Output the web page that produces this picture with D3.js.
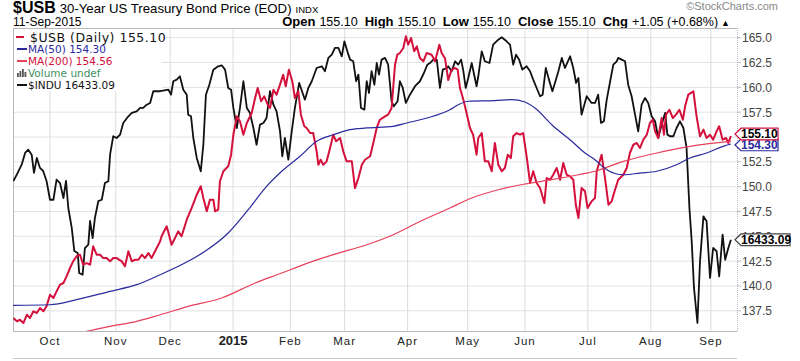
<!DOCTYPE html>
<html><head><meta charset="utf-8">
<script src="https://cdn.jsdelivr.net/npm/d3@7"></script>
<style>body{margin:0;background:#fff}svg{display:block}</style>
</head><body>
<svg id="c" width="800" height="361"></svg>
<script>
// x = trading-day number counted from 12-Sep-2014 (0) to 11-Sep-2015 (251)
const monthIdx = [13,36,55,77,97,116,138,159,179,201,223,244];
const monthLbl = ["Oct","Nov","Dec","2015","Feb","Mar","Apr","May","Jun","Jul","Aug","Sep"];
const yTicks = [137.5,140,142.5,145,147.5,150,152.5,155,157.5,160,162.5,165];

const usb = [[0.2,136.77],[1.4,136.44],[2.5,136.6],[3.7,136.27],[4.9,137.1],[6,136.77],[7.2,137.45],[8.4,137.28],[9.5,137.78],[10.7,137.45],[11.8,137.95],[13,139.12],[14.2,138.79],[15.3,139.46],[16.5,140.13],[17.7,140.3],[18.8,140.97],[20,141.81],[21.1,142.48],[22.3,142.99],[23.5,143.15],[24.6,142.14],[25.8,142.31],[27,142.14],[28.1,143.99],[29.3,143.15],[30.5,143.15],[31.6,142.81],[32.8,142.81],[34,142.48],[35.1,142.81],[36.3,142.81],[38.1,142.48],[39.2,141.98],[40.4,143.49],[41.6,142.48],[42.7,142.64],[43.9,142.64],[45.1,143.15],[46.2,142.81],[47.4,143.32],[48.5,142.81],[50.3,143.82],[51.5,144.5],[52,145],[53.8,146.01],[55.5,144.15],[56.7,144.83],[57.8,145.5],[59,145],[60.8,146.67],[62.5,147.85],[64.3,149.19],[65.7,150.04],[66.6,148.86],[67.8,147.52],[68.9,148.69],[70.1,148.69],[70.7,147.52],[71.8,147.68],[72.4,150.54],[73.6,151.55],[75.3,152.05],[76.3,153.22],[77.1,155.23],[78.3,157.08],[79.4,156.58],[80.6,155.23],[81.8,156.41],[83.5,157.42],[84.7,158.93],[85.6,159.93],[86.8,158.6],[87.9,159.1],[89.1,158.25],[89.9,157.92],[91.1,159.76],[92.2,159.26],[93.4,160.27],[94.5,161.27],[95.4,160.11],[96.5,161.78],[97.7,160.61],[98.6,158.93],[99.8,159.6],[100.7,157.25],[101.9,156.08],[102.7,155.91],[103.9,155.4],[105,155.4],[106.2,153.56],[106.8,152.21],[107.6,152.71],[108.5,152.21],[109.7,152.55],[110.9,153.89],[112,155.23],[113,154.57],[114.4,154.9],[115.5,153.56],[116.7,152.55],[118.5,152.55],[119.6,149.86],[120.8,150.87],[122,152.21],[123.1,152.71],[124.9,153.06],[126,154.4],[127.2,155.91],[128.3,156.74],[130.1,157.08],[131.2,157.25],[132.4,157.92],[133.6,162.28],[134.4,163.29],[135.3,163.46],[136.5,163.96],[137.4,165.14],[138.2,164.3],[139.2,164.97],[140.3,163.63],[141.2,164.13],[142.3,162.96],[143.5,162.62],[144.7,163.46],[146.4,163.29],[147.6,162.62],[149.1,164.3],[149.9,163.46],[151.1,162.9],[152.2,160.74],[153.4,161.78],[154.6,161.95],[155.5,161.78],[156.3,159.93],[157.5,158.76],[158.6,157.42],[159.8,155.91],[160.9,155.23],[162.1,153.22],[162.7,154.9],[163.9,155.4],[165,152.55],[166.2,152.55],[167.4,151.55],[168.5,154.4],[169.7,152.21],[170.9,151.55],[172,151.88],[173,153.22],[174.1,152.89],[174.9,155.07],[176.1,155.4],[177.3,155.23],[178.4,155.4],[179.6,153.06],[180.8,150.37],[181.9,151.55],[183.1,150.37],[184.3,149.86],[185.8,148.35],[186.6,150.87],[187.8,150.7],[188.9,151.2],[190.1,151.88],[191.3,150.7],[192.4,152.38],[193.6,151.2],[194.8,151.04],[195.9,150.7],[196.8,148.18],[197.7,146.84],[198.8,149.86],[200,149.53],[200.9,147.85],[202.3,148.52],[203.5,148.86],[204.1,151.55],[205.8,153.22],[207,150.87],[208.2,148.18],[209.3,148.52],[210.5,149.69],[211.6,150.7],[213.4,151.2],[214.6,151.88],[215.7,153.39],[216.9,154.22],[218.1,154.4],[219.2,153.89],[220.4,154.73],[221.6,155.23],[222.7,156.41],[223.7,156.74],[224.5,155.57],[225.6,154.9],[226.8,156.91],[227.6,155.23],[228.3,157.25],[229.5,157.75],[230.7,156.91],[231.8,157.25],[233,157.75],[234.2,156.74],[235,158.09],[236.1,159.26],[237.9,159.6],[239,157.08],[240.2,155.07],[241.4,155.74],[242.5,154.9],[243.7,155.23],[244.8,154.73],[246,155.57],[246.9,156.08],[248.1,154.73],[249.3,154.9],[250.1,154.4],[251,155.1]];

const indu = [[0.2,16975],[1.4,17033],[3.1,17125],[4.3,17233],[5.4,17263],[6.6,17217],[7.4,17049],[8.4,17187],[9.5,17095],[10.6,17067],[11.8,16975],[13,16802],[14.2,16802],[15.3,16987],[16.5,16956],[17.7,16818],[18.6,16975],[19.4,16726],[20.6,16542],[21.5,16330],[22.7,16311],[23.2,16127],[24.4,16111],[25.2,16357],[26.4,16388],[27,16606],[27.9,16449],[28.7,16634],[29.9,16790],[31.1,16802],[32.2,16956],[33.4,16972],[34,17217],[35.1,17387],[36.3,17371],[37.5,17402],[38.6,17509],[40.4,17571],[41.6,17602],[43.3,17617],[44.5,17648],[45.6,17648],[46.8,17678],[48,17694],[49.1,17802],[50.3,17802],[51.5,17802],[54.4,17816],[55.3,17770],[56.1,17894],[57.3,17909],[58.4,17940],[59.6,17816],[60.8,17770],[61.3,17586],[62.3,17571],[63.1,17371],[64.3,17187],[65.7,17064],[66.6,17309],[67.5,17770],[68.7,17862],[70.1,18001],[71.8,18032],[73,18041],[74.2,18001],[75.3,17832],[76.3,17816],[77.1,17648],[78.3,17463],[79.4,17648],[80.6,17894],[81.8,17648],[82.9,17602],[84.1,17463],[85.2,17309],[86.4,17494],[87.6,17509],[88.7,17556],[89.9,17802],[91.1,17678],[92.2,17617],[93.4,17433],[94.2,17202],[95.1,17371],[96.3,17171],[97.5,17433],[98.6,17648],[100.1,17878],[101.5,17770],[102.1,17724],[103.3,17832],[104.5,17894],[106.2,18016],[108,18032],[109.1,17986],[110.3,18109],[111.5,18139],[112.6,18201],[113.8,18201],[115,18124],[115.9,18262],[117.3,18139],[117.9,18093],[119,18078],[120,17894],[120.8,17955],[121.7,17648],[122.9,17632],[123.7,17894],[124.5,17786],[125.4,17986],[126.4,17862],[127.2,18062],[128,17955],[128.9,18093],[130.1,18109],[131.2,18047],[132.4,17709],[133.2,17663],[134.5,17709],[135.3,17894],[136.3,17832],[137.4,17694],[138.8,17770],[140.6,17848],[142.3,17894],[143.7,17970],[144.9,18047],[145.8,18062],[147,18093],[148.2,18093],[149.3,17832],[150.3,18001],[151.7,18016],[152.2,18032],[153.4,17986],[154.6,18078],[155.7,18047],[156.7,18093],[157.5,17986],[158.3,17832],[159.2,17924],[160.4,18062],[162.1,17848],[162.7,17940],[163.9,18170],[165,18078],[166.6,18062],[167.9,18231],[169.7,18277],[170.9,18299],[172.6,18262],[173.8,18231],[174.9,18047],[175.9,18139],[177,18093],[178.1,18001],[179.6,18032],[180.8,17986],[181.9,17909],[183.1,17832],[184.3,17756],[185.2,17770],[186.3,18016],[187.4,17909],[188.6,17802],[189.5,17878],[190.7,17986],[191.9,18109],[193,18016],[194.8,18124],[195.9,18016],[196.9,17878],[197.7,17924],[198.8,17586],[200.6,17756],[202.3,17694],[203.5,17694],[204.6,17770],[205.6,17509],[206.6,17525],[207.6,17724],[208.8,17894],[209.9,18047],[211.1,18078],[211.6,18109],[212.8,18093],[214,18078],[215.1,17862],[216.3,17756],[217.5,17586],[218.6,17433],[219.8,17678],[221,17740],[222.1,17694],[223.3,17571],[224.5,17525],[225.6,17371],[226.8,17494],[228,17602],[228.8,17402],[229.7,17387],[230.9,17387],[232,17463],[233.2,17525],[234.4,17463],[235.5,17279],[236.5,16726],[237.3,16419],[238.1,15989],[239.3,15666],[240.2,16235],[241.4,16649],[242.5,16603],[243.7,16081],[244.8,16357],[246,16327],[246.9,16096],[248.1,16480],[249,16249],[250.1,16357],[251,16433.09]];

const ma50 = [[0,138.05],[13,138.11],[22.3,138.62],[34,139.46],[43.3,140.13],[51.5,141.13],[61.3,142.48],[67.2,143.49],[75.3,145.33],[82.3,147.68],[88.2,149.86],[94,151.55],[100.4,153.06],[106.2,154.57],[112,155.23],[117.9,155.74],[123.7,155.91],[133,156.08],[137.7,156.41],[144.7,156.91],[152.8,157.75],[155.7,158.25],[159.2,158.6],[168.5,158.66],[174.4,158.76],[179,158.52],[182.5,157.92],[188.4,156.24],[195.4,154.57],[200,153.39],[203.5,152.7],[207.6,151.71],[213.4,151.2],[219.2,151.37],[225.1,151.55],[232,152.21],[236.7,152.89],[242.5,153.39],[248.3,154.06],[251,154.3]];

const ma200 = [[0,133.9],[25.8,135.43],[34,135.94],[43.3,136.44],[51.5,137.1],[61.3,137.95],[73,138.79],[84.7,140.3],[94,141.3],[102.1,142.2],[112,143.15],[123.7,144.15],[133,145.16],[141.2,146.34],[152.8,147.85],[160.4,148.86],[169.7,149.69],[179,150.27],[188.4,150.7],[197.7,151.2],[203.5,151.55],[213.4,152.55],[225.1,153.39],[236.7,154.06],[251,154.56]];

const last = {usb:"155.10", ma50:"154.30", ma200:"154.56", indu:"16433.09"};

const L=13,R=737,T=28,B=331;
const svg = d3.select("#c");
const x = d3.scaleLinear().domain([0,251]).range([12.8,730.9]);
const y = d3.scaleLinear().domain([137.5,165]).range([310.8,37.7]);
const yI = d3.scaleLinear().domain([15666,18311]).range([323,36]);
const SANS = "'Liberation Sans', Arial, sans-serif";
const VER = "'DejaVu Sans', Verdana, sans-serif";
const RED="#d4103c", RED2="#e8405a", BLUE="#2a2a9e", BLK="#111";

// header
const h1 = svg.append("text").attr("x",13).attr("y",13).attr("font-family",SANS).attr("fill","#000");
h1.append("tspan").attr("font-weight","bold").attr("font-size",16).text("$USB");
h1.append("tspan").attr("font-size",13.2).attr("dx",4).text("30-Year US Treasury Bond Price (EOD)");
h1.append("tspan").attr("font-size",9.5).attr("dx",4).text("INDX");
svg.append("text").attr("x",13).attr("y",26).attr("font-family",SANS).attr("font-size",12).text("11-Sep-2015");
svg.append("text").attr("x",778).attr("y",10).attr("text-anchor","end").attr("font-family",SANS).attr("font-size",11).attr("fill","#888").text("\u00A9StockCharts.com");
const h2 = svg.append("text").attr("x",730).attr("y",26).attr("text-anchor","end").attr("font-family",SANS).attr("font-size",12.5).attr("fill","#000");
[["Open","155.10"],["High","155.10"],["Low","155.10"],["Close","155.10"],["Chg","+1.05 (+0.68%)"]].forEach((p,i)=>{
  h2.append("tspan").attr("font-weight","bold").attr("font-size",13).attr("dx",i?7:0).text(p[0]);
  h2.append("tspan").attr("dx",4).text(p[1]);
});
h2.append("tspan").attr("dx",3).attr("font-size",9).text("\u25B2");

// grid
const g = svg.append("g");
g.selectAll(".hg").data(yTicks).join("line").attr("x1",L).attr("x2",R)
  .attr("y1",d=>y(d)).attr("y2",d=>y(d)).attr("stroke","#e2e2e2");
g.selectAll(".vg").data(monthIdx).join("line").attr("y1",T).attr("y2",B)
  .attr("x1",d=>x(d)).attr("x2",d=>x(d)).attr("stroke","#dcdcdc");
// frame
svg.append("line").attr("x1",L).attr("x2",R).attr("y1",T+0.5).attr("y2",T+0.5).attr("stroke","#b8b8b8");
svg.append("line").attr("x1",L).attr("x2",R).attr("y1",B+0.5).attr("y2",B+0.5).attr("stroke","#b8b8b8");
svg.append("line").attr("x1",L+0.5).attr("x2",L+0.5).attr("y1",T).attr("y2",B).attr("stroke","#b8b8b8");
svg.append("line").attr("x1",R+0.5).attr("x2",R+0.5).attr("y1",T).attr("y2",B).attr("stroke","#bbb").attr("stroke-dasharray","1,1");
svg.append("line").attr("x1",L).attr("x2",R).attr("y1",358.5).attr("y2",358.5).attr("stroke","#c8c8c8");

// legend background
svg.append("rect").attr("x",L+1).attr("y",T+1).attr("width",148).attr("height",62).attr("fill","#fff");

// lines
svg.append("clipPath").attr("id","clip").append("rect").attr("x",L).attr("y",T).attr("width",R-L).attr("height",B-T);
const pl = svg.append("g").attr("clip-path","url(#clip)").attr("fill","none").attr("stroke-linejoin","round");
const lineU = d3.line().x(d=>x(d[0])).y(d=>y(d[1]));
const lineI = d3.line().x(d=>x(d[0])).y(d=>yI(d[1]));
const lineS = d3.line().curve(d3.curveMonotoneX).x(d=>x(d[0])).y(d=>y(d[1]));
pl.append("path").attr("d",lineI(indu)).attr("stroke",BLK).attr("stroke-width",1.8);
pl.append("path").attr("d",lineU(usb)).attr("stroke",RED).attr("stroke-width",2);
pl.append("path").attr("d",lineS(ma200)).attr("stroke",RED2).attr("stroke-width",1.2);
pl.append("path").attr("d",lineS(ma50)).attr("stroke",BLUE).attr("stroke-width",1.2);

// legend
const lg = svg.append("g").attr("font-family",VER);
function dash(yy,c,x1,x2){lg.append("line").attr("x1",x1).attr("x2",x2).attr("y1",yy).attr("y2",yy).attr("stroke",c).attr("stroke-width",2);}
dash(37,RED,16,24); lg.append("text").attr("x",30).attr("y",41.5).attr("font-size",12.5).attr("letter-spacing",0.5).attr("fill","#111").text("$USB (Daily) "+last.usb);
dash(49,BLUE,17,27); lg.append("text").attr("x",28).attr("y",53).attr("font-size",10.5).attr("fill",BLUE).text("MA(50) "+last.ma50);
dash(61,RED2,17,27); lg.append("text").attr("x",28).attr("y",65).attr("font-size",10.5).attr("fill",RED).text("MA(200) "+last.ma200);
[[17,4],[19.5,6],[22,8],[24.5,5]].forEach(b=>lg.append("rect").attr("x",b[0]).attr("y",77-b[1]).attr("width",1.8).attr("height",b[1]).attr("fill","#555"));
lg.append("text").attr("x",28).attr("y",77).attr("font-size",10.5).attr("fill","#3f8f63").text("Volume undef");
dash(85,BLK,17,27); lg.append("text").attr("x",28).attr("y",89).attr("font-size",10.5).attr("fill","#111").text("$INDU "+last.indu);

// right axis (the 155.0 label sits fully under the price tags, as in the original)
const ax = svg.append("g").attr("font-family",SANS).attr("font-size",12).attr("fill","#444");
yTicks.forEach(t=>{
  ax.append("line").attr("x1",R).attr("x2",R+4).attr("y1",y(t)).attr("y2",y(t)).attr("stroke","#bbb");
  if (t!==155) ax.append("text").attr("x",742).attr("y",y(t)+4.5).text(t.toFixed(1));
});
function tag(cy,txt,stroke,w,col){
  const x0=735,x1=x0+w,hh=5.8;
  svg.append("path").attr("d",`M${x0},${cy}L${x0+6},${cy-hh}L${x1},${cy-hh}L${x1},${cy+hh}L${x0+6},${cy+hh}Z`)
    .attr("fill","#fff").attr("stroke",stroke).attr("stroke-width",1.2);
  svg.append("text").attr("x",x0+6).attr("y",cy+4.3).attr("font-family",SANS).attr("font-weight","bold").attr("font-size",12).attr("fill",col).text(txt);
}
tag(y(+last.ma50)+1,last.ma50,BLUE,43,BLUE);
tag(y(+last.usb)-2,last.usb,RED,43,"#000");
tag(yI(+last.indu),last.indu,"#444",55,"#000");

// x labels
const xl = svg.append("g").attr("font-family",SANS).attr("fill","#222");
monthIdx.forEach((m,i)=>{
  const bold = monthLbl[i]==="2015";
  xl.append("text").attr("x",x(m)).attr("y",345).attr("text-anchor","middle")
    .attr("font-size",bold?13:11.5).attr("font-weight",bold?"bold":"normal").attr("letter-spacing",bold?0:1)
    .text(monthLbl[i]);
});
</script>
</body></html>
